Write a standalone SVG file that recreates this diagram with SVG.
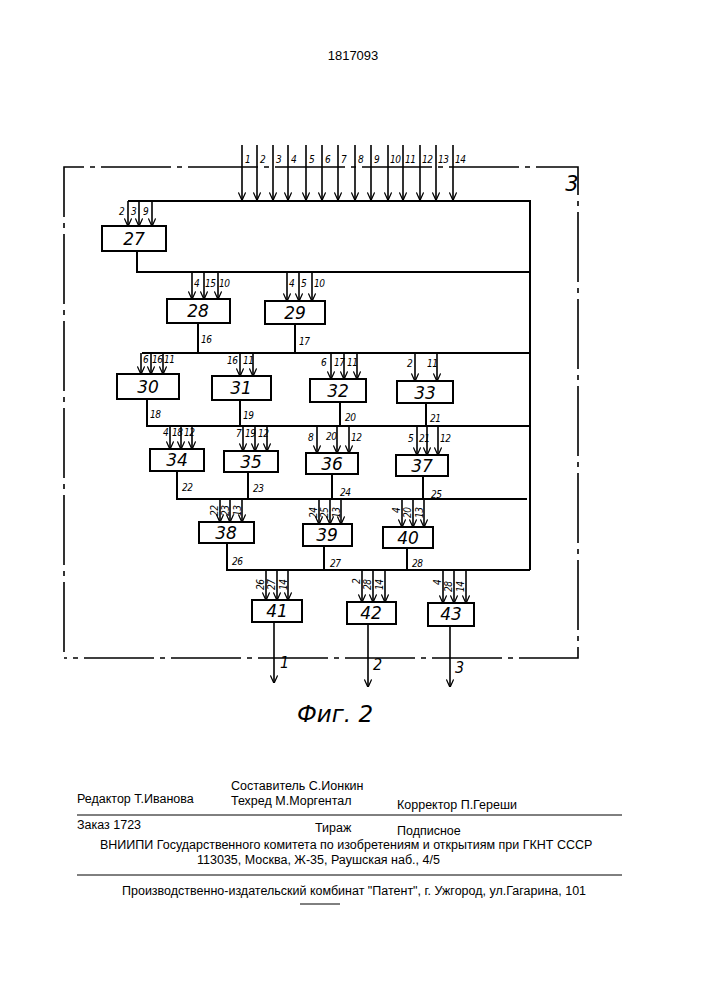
<svg xmlns="http://www.w3.org/2000/svg" width="707" height="1000" viewBox="0 0 707 1000">
<style>
.l{stroke:#000;stroke-width:2;fill:none}
#inputs line{stroke:#000;stroke-width:1.6;marker-end:url(#ah)}
.b{stroke:#000;stroke-width:2;fill:#fff}
.f{stroke:#000;stroke-width:1.6;fill:none;stroke-dasharray:70 6 5 6}
.n{font-family:"DejaVu Sans",sans-serif;font-style:italic;font-size:17px;text-anchor:middle}
.s{font-family:"DejaVu Sans Condensed","DejaVu Sans",sans-serif;font-style:italic;font-size:10px;letter-spacing:-0.5px}
.t{font-family:"Liberation Sans",sans-serif;font-size:12.5px}
</style>
<defs><marker id="ah" viewBox="0 0 10 10" refX="9.5" refY="5" markerWidth="8" markerHeight="8" orient="auto" markerUnits="userSpaceOnUse"><path d="M0,0.5 L10,5 L0,9.5" fill="none" stroke="#000" stroke-width="1.6"/></marker></defs>
<rect width="707" height="1000" fill="#fff"/>
<text x="353" y="60" class="t" text-anchor="middle" style="font-size:13px">1817093</text>
<path class="f" d="M64,652 V167 H578 V658 H64"/>
<text x="572" y="191" class="n" style="font-size:21px">3</text>
<g id="connectors">
<path class="l" d="M128,201 H530 V570 M137,251 V272 H530 M142,353 H530 M198,323 V353 M295,324 V353 M147,399 V426 H530 M240,400 V426 M340,402 V426 M426,403 V426 M177,471 V499 H527 M248,472 V499 M332,474 V499 M423,476 V499 M227,543 V570 H530 M324,546 V570 M407,548 V570"/>
<g id="inputs">
<line x1="242" y1="145" x2="242" y2="200"/><line x1="257" y1="145" x2="257" y2="200"/><line x1="273" y1="145" x2="273" y2="200"/><line x1="288" y1="145" x2="288" y2="200"/><line x1="306" y1="145" x2="306" y2="200"/><line x1="322" y1="145" x2="322" y2="200"/><line x1="338" y1="145" x2="338" y2="200"/><line x1="355" y1="145" x2="355" y2="200"/><line x1="371" y1="145" x2="371" y2="200"/><line x1="388" y1="145" x2="388" y2="200"/><line x1="403" y1="145" x2="403" y2="200"/><line x1="420" y1="145" x2="420" y2="200"/><line x1="436" y1="145" x2="436" y2="200"/><line x1="453" y1="145" x2="453" y2="200"/>
<line x1="128" y1="201" x2="128" y2="226"/><line x1="139" y1="201" x2="139" y2="226"/><line x1="152" y1="201" x2="152" y2="226"/>
<line x1="192" y1="272" x2="192" y2="299"/><line x1="204" y1="272" x2="204" y2="299"/><line x1="218" y1="272" x2="218" y2="299"/>
<line x1="287" y1="272" x2="287" y2="301"/><line x1="299" y1="272" x2="299" y2="301"/><line x1="312" y1="272" x2="312" y2="301"/>
<line x1="141" y1="353" x2="141" y2="374"/><line x1="151" y1="353" x2="151" y2="374"/><line x1="163" y1="353" x2="163" y2="374"/>
<line x1="240" y1="353" x2="240" y2="376"/><line x1="253" y1="353" x2="253" y2="376"/>
<line x1="331" y1="353" x2="331" y2="379"/><line x1="344" y1="353" x2="344" y2="379"/><line x1="357" y1="353" x2="357" y2="379"/>
<line x1="415" y1="353" x2="415" y2="381"/><line x1="437" y1="353" x2="437" y2="381"/>
<line x1="170" y1="426" x2="170" y2="449"/><line x1="181" y1="426" x2="181" y2="449"/><line x1="192" y1="426" x2="192" y2="449"/>
<line x1="243" y1="426" x2="243" y2="451"/><line x1="255" y1="426" x2="255" y2="451"/><line x1="267" y1="426" x2="267" y2="451"/>
<line x1="317" y1="426" x2="317" y2="453"/><line x1="337" y1="426" x2="337" y2="453"/><line x1="349" y1="426" x2="349" y2="453"/>
<line x1="417" y1="426" x2="417" y2="455"/><line x1="427" y1="426" x2="427" y2="455"/><line x1="438" y1="426" x2="438" y2="455"/>
<line x1="220" y1="499" x2="220" y2="522"/><line x1="230" y1="499" x2="230" y2="522"/><line x1="242" y1="499" x2="242" y2="522"/>
<line x1="319" y1="499" x2="319" y2="524"/><line x1="330" y1="499" x2="330" y2="524"/><line x1="341" y1="499" x2="341" y2="524"/>
<line x1="402" y1="499" x2="402" y2="527"/><line x1="413" y1="499" x2="413" y2="527"/><line x1="424" y1="499" x2="424" y2="527"/>
<line x1="266" y1="570" x2="266" y2="600"/><line x1="277" y1="570" x2="277" y2="600"/><line x1="288" y1="570" x2="288" y2="600"/>
<line x1="362" y1="570" x2="362" y2="602"/><line x1="373" y1="570" x2="373" y2="602"/><line x1="385" y1="570" x2="385" y2="602"/>
<line x1="443" y1="570" x2="443" y2="603"/><line x1="454" y1="570" x2="454" y2="603"/><line x1="466" y1="570" x2="466" y2="603"/>
<line x1="274" y1="622" x2="274" y2="683"/><line x1="368" y1="624" x2="368" y2="687"/><line x1="450" y1="626" x2="450" y2="687"/>
</g>
<g class="s">
<text x="245" y="163">1</text><text x="260" y="163">2</text><text x="276" y="163">3</text><text x="291" y="163">4</text><text x="309" y="163">5</text><text x="325" y="163">6</text><text x="341" y="163">7</text><text x="358" y="163">8</text><text x="374" y="163">9</text><text x="390" y="163">10</text><text x="405" y="163">11</text><text x="422" y="163">12</text><text x="438" y="163">13</text><text x="455" y="163">14</text>
<text x="119" y="215">2</text><text x="131" y="215">3</text><text x="143" y="215">9</text>
<text x="194" y="287">4</text><text x="205" y="287">15</text><text x="219" y="287">10</text>
<text x="289" y="287">4</text><text x="301" y="287">5</text><text x="314" y="287">10</text>
<text x="201" y="343">16</text><text x="299" y="345">17</text>
<text x="143" y="363">6</text><text x="152" y="363">16</text><text x="164" y="363">11</text>
<text x="227" y="364">16</text><text x="243" y="364">11</text>
<text x="321" y="366">6</text><text x="334" y="366">17</text><text x="347" y="366">11</text>
<text x="407" y="367">2</text><text x="427" y="367">11</text>
<text x="150" y="418">18</text><text x="243" y="419">19</text><text x="345" y="421">20</text><text x="430" y="422">21</text>
<text x="163" y="436">4</text><text x="172" y="436">18</text><text x="184" y="436">12</text>
<text x="236" y="437">7</text><text x="245" y="437">19</text><text x="258" y="437">12</text>
<text x="308" y="441">8</text><text x="326" y="440">20</text><text x="351" y="441">12</text>
<text x="408" y="442">5</text><text x="419" y="442">21</text><text x="440" y="442">12</text>
<text x="182" y="491">22</text><text x="253" y="492">23</text><text x="340" y="496">24</text><text x="431" y="498">25</text>
<text x="232" y="565">26</text><text x="330" y="567">27</text><text x="412" y="567">28</text>
<text transform="translate(218,516) rotate(-90)">22</text><text transform="translate(229,516) rotate(-90)">23</text><text transform="translate(241,516) rotate(-90)">13</text>
<text transform="translate(317,518) rotate(-90)">24</text><text transform="translate(328,518) rotate(-90)">25</text><text transform="translate(340,518) rotate(-90)">13</text>
<text transform="translate(400,513) rotate(-90)">4</text><text transform="translate(411,518) rotate(-90)">20</text><text transform="translate(423,518) rotate(-90)">13</text>
<text transform="translate(264,590) rotate(-90)">26</text><text transform="translate(275,590) rotate(-90)">27</text><text transform="translate(287,590) rotate(-90)">14</text>
<text transform="translate(360,584) rotate(-90)">2</text><text transform="translate(371,590) rotate(-90)">28</text><text transform="translate(383,590) rotate(-90)">14</text>
<text transform="translate(441,585) rotate(-90)">4</text><text transform="translate(452,592) rotate(-90)">28</text><text transform="translate(464,592) rotate(-90)">14</text>
</g>
<g class="s" style="font-size:16px"><text x="280" y="668">1</text><text x="373" y="670">2</text><text x="455" y="673">3</text></g>
</g>
<g id="n27"><rect class="b" x="102" y="226" width="64" height="25"/><text class="n" x="134" y="245">27</text></g>
<g id="n28"><rect class="b" x="167" y="299" width="63" height="24"/><text class="n" x="198" y="317">28</text></g>
<g id="n29"><rect class="b" x="265" y="301" width="60" height="23"/><text class="n" x="295" y="319">29</text></g>
<g id="n30"><rect class="b" x="117" y="374" width="62" height="25"/><text class="n" x="148" y="393">30</text></g>
<g id="n31"><rect class="b" x="212" y="376" width="59" height="24"/><text class="n" x="241" y="394">31</text></g>
<g id="n32"><rect class="b" x="310" y="379" width="56" height="23"/><text class="n" x="338" y="397">32</text></g>
<g id="n33"><rect class="b" x="397" y="381" width="56" height="22"/><text class="n" x="425" y="399">33</text></g>
<g id="n34"><rect class="b" x="150" y="449" width="54" height="22"/><text class="n" x="177" y="466">34</text></g>
<g id="n35"><rect class="b" x="224" y="451" width="54" height="21"/><text class="n" x="251" y="468">35</text></g>
<g id="n36"><rect class="b" x="306" y="453" width="52" height="21"/><text class="n" x="332" y="470">36</text></g>
<g id="n37"><rect class="b" x="396" y="455" width="52" height="21"/><text class="n" x="422" y="472">37</text></g>
<g id="n38"><rect class="b" x="199" y="522" width="55" height="21"/><text class="n" x="226" y="539">38</text></g>
<g id="n39"><rect class="b" x="303" y="524" width="49" height="22"/><text class="n" x="327" y="541">39</text></g>
<g id="n40"><rect class="b" x="383" y="527" width="50" height="21"/><text class="n" x="408" y="544">40</text></g>
<g id="n41"><rect class="b" x="252" y="600" width="50" height="22"/><text class="n" x="277" y="617">41</text></g>
<g id="n42"><rect class="b" x="347" y="602" width="49" height="22"/><text class="n" x="371" y="619">42</text></g>
<g id="n43"><rect class="b" x="428" y="603" width="46" height="23"/><text class="n" x="451" y="620">43</text></g>
<text x="335" y="722" class="n" style="font-size:23px">Фиг. 2</text>
<g class="t">
<text x="77" y="803">Редактор  Т.Иванова</text>
<text x="231" y="790">Составитель С.Ионкин</text>
<text x="231" y="805">Техред М.Моргентал</text>
<text x="397" y="809">Корректор  П.Гереши</text>
<text x="77" y="829">Заказ  1723</text>
<text x="315" y="832">Тираж</text>
<text x="397" y="835">Подписное</text>
<text x="100" y="849">ВНИИПИ Государственного комитета по изобретениям и открытиям при ГКНТ СССР</text>
<text x="197" y="864">113035, Москва, Ж-35, Раушская наб., 4/5</text>
<text x="122" y="895">Производственно-издательский комбинат "Патент", г. Ужгород, ул.Гагарина, 101</text>
</g>
<path d="M77,815 H622 M77,875 H622 M300,904 H340" stroke="#000" stroke-width="1"/>
</svg>
